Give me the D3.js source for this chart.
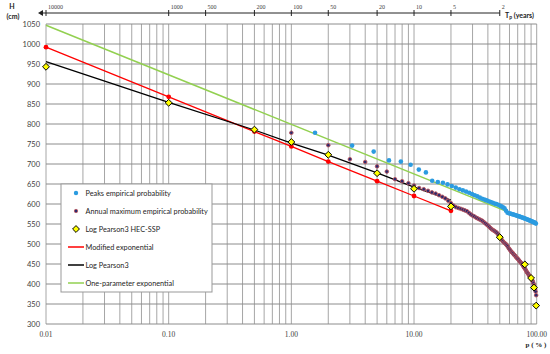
<!DOCTYPE html>
<html>
<head>
<meta charset="utf-8">
<script src="https://cdn.jsdelivr.net/npm/d3@7"></script>
<style>
  body { margin: 0; background: #fff; }
  svg text { font-family: Lato, "Open Sans", sans-serif; }
</style>
</head>
<body>
<svg id="chart" width="550" height="354"></svg>
<script>
    // x axis: exceedance probability p (%), y axis: water level H (cm)
    const yTicks = [300, 350, 400, 450, 500, 550, 600, 650, 700, 750, 800, 850, 900, 950, 1000, 1050];
    const xLabels = [0.01, 0.1, 1, 10, 100];
    const tpLabels = [10000, 1000, 500, 200, 100, 50, 20, 10, 5, 2];

    // Peaks empirical probability
    const pPeaks = [1.56, 3.13, 4.69, 6.25, 7.81, 9.38, 10.94, 12.5, 14.06, 15.63,
        17.19, 18.75, 20.31, 21.88, 23.44, 25.0, 26.56, 28.13, 29.69, 31.25,
        32.81, 34.38, 35.94, 37.5, 39.06, 40.63, 42.19, 43.75, 45.31, 46.88,
        48.44, 50.0, 51.56, 53.13, 54.69, 56.25, 57.81, 59.38, 60.94, 62.5,
        64.06, 65.63, 67.19, 68.75, 70.31, 71.88, 73.44, 75.0, 76.56, 78.13,
        79.69, 81.25, 82.81, 84.38, 85.94, 87.5, 89.06, 90.63, 92.19, 93.75,
        95.31, 96.88, 98.44];
    const hPeaks = [778, 746, 731, 709, 706, 698, 686, 679, 658, 655,
        653, 649, 645, 641, 637, 634, 631, 628, 625, 622,
        619, 616, 613, 611, 609, 607, 605, 603, 601, 600,
        598, 596, 594, 592, 589, 583, 578, 577, 576, 575,
        574, 573, 572, 571, 570, 569, 568, 567, 566, 565,
        564, 563, 562, 561, 560, 559, 558, 557, 556, 555,
        554, 553, 551];

    // Annual maximum empirical probability
    const pAnnual = [1, 2, 3, 4, 5, 6, 7, 8, 9, 10, 11, 12, 13, 14, 15, 16, 17, 18, 19, 20,
        21, 22, 23, 24, 25, 26, 27, 28, 29, 30, 31, 32, 33, 34, 35, 36, 37, 38, 39, 40,
        41, 42, 43, 44, 45, 46, 47, 48, 49, 50, 51, 52, 53, 54, 55, 56, 57, 58, 59, 60,
        61, 62, 63, 64, 65, 66, 67, 68, 69, 70, 71, 72, 73, 74, 75, 76, 77, 78, 79, 80,
        81, 82, 83, 84, 85, 86, 87, 88, 89, 90, 91, 92, 93, 94, 95, 96, 97, 98, 99];
    const hAnnual = [778, 747, 712, 705, 694, 681, 662, 657, 652, 646,
        640, 637, 633, 629, 626, 622, 618, 614, 608, 602,
        596, 592, 590, 588, 586, 584, 582, 578, 574, 571,
        569, 566, 564, 562, 560, 558, 555, 552, 549, 546,
        543, 540, 537, 535, 533, 531, 529, 526, 522, 518,
        514, 510, 507, 504, 502, 500, 497, 494, 490, 487,
        484, 481, 479, 477, 474, 472, 470, 467, 465, 463,
        461, 458, 456, 454, 452, 450, 447, 444, 441, 439,
        436, 433, 430, 428, 426, 423, 421, 419, 417, 415,
        412, 409, 406, 402, 397, 392, 387, 381, 372];

    // Log Pearson3 HEC-SSP
    const pHec = [0.01, 0.1, 0.5, 1, 2, 5, 10, 20, 50, 80, 90, 95, 99];
    const hHec = [943, 853, 786, 755, 723, 677, 638, 594, 517, 449, 415, 391, 346];

    // Modified exponential
    const pModExp = [0.01, 0.1, 0.5, 1, 2, 5, 10, 20];
    const hModExp = [992, 868, 781, 744, 706, 657, 620, 583];

    // Log Pearson3
    const pLp3 = [0.01, 0.1, 0.5, 1, 2, 5, 10, 20];
    const hLp3 = [956, 854, 785, 752, 722, 678, 642, 610];

    // One-parameter exponential
    const pOneExp = [0.01, 100];
    const hOneExp = [1047, 551];

    const legendItems = [
        { label: 'Peaks empirical probability', type: 'peaks' },
        { label: 'Annual maximum empirical probability', type: 'annual' },
        { label: 'Log Pearson3 HEC-SSP', type: 'hec' },
        { label: 'Modified exponential', type: 'line', color: '#ff0000' },
        { label: 'Log Pearson3', type: 'line', color: '#000000' },
        { label: 'One-parameter exponential', type: 'line', color: '#92d050' }
    ];

(function() {
    const svg = d3.select('#chart');
    const plotLeft = 46, plotRight = 536.7, plotTop = 24, plotBottom = 324;

    const x = d3.scaleLog().domain([0.01, 100]).range([plotLeft, plotRight]);
    const y = d3.scaleLinear().domain([300, 1050]).range([plotBottom, plotTop]);

    const zip = (ps, hs) => ps.map((p, i) => ({ p: p, h: hs[i] }));

    // grid
    const grid = svg.append('g');
    const vLines = [];
    [0.01, 0.1, 1, 10].forEach(dec => {
        for (let k = 1; k <= 9; k++) vLines.push(+(dec * k).toPrecision(3));
    });
    vLines.push(100);
    grid.selectAll('line.v')
        .data(vLines)
        .enter()
        .append('line')
        .attr('x1', d => x(d)).attr('x2', d => x(d))
        .attr('y1', plotTop).attr('y2', plotBottom)
        .attr('stroke', '#a6a6a6').attr('stroke-width', 1);
    grid.selectAll('line.h')
        .data(yTicks)
        .enter()
        .append('line')
        .attr('x1', plotLeft).attr('x2', plotRight)
        .attr('y1', d => y(d)).attr('y2', d => y(d))
        .attr('stroke', '#8c8c8c').attr('stroke-width', 1);

    // y labels
    svg.append('g').selectAll('text')
        .data(yTicks)
        .enter()
        .append('text')
        .attr('x', plotLeft - 6)
        .attr('y', d => y(d))
        .attr('dy', '0.35em')
        .attr('text-anchor', 'end')
        .style('font-size', '7.5px')
        .attr('fill', '#404040')
        .text(d => d);

    // x labels
    svg.append('g').selectAll('text')
        .data(xLabels)
        .enter()
        .append('text')
        .attr('x', d => x(d))
        .attr('y', 337)
        .attr('text-anchor', 'middle')
        .style('font-family', '"Liberation Serif", serif')
        .style('font-size', '7.5px')
        .attr('fill', '#404040')
        .text(d => d.toFixed(2));

    // top return period axis
    const topY = 13;
    const tpAxis = svg.append('g');
    tpAxis.append('line')
        .attr('x1', 41).attr('x2', x(100 / 2))
        .attr('y1', topY).attr('y2', topY)
        .attr('stroke', '#222').attr('stroke-width', 1);
    tpAxis.append('path')
        .attr('d', `M38,${topY} L43,${topY - 3} L43,${topY + 3} Z`)
        .attr('fill', '#222');
    tpAxis.selectAll('line.tick')
        .data(tpLabels)
        .enter()
        .append('line')
        .attr('x1', d => x(100 / d)).attr('x2', d => x(100 / d))
        .attr('y1', topY - 3).attr('y2', topY + 3)
        .attr('stroke', '#222').attr('stroke-width', 1);
    tpAxis.selectAll('text')
        .data(tpLabels)
        .enter()
        .append('text')
        .attr('x', d => x(100 / d) + 2)
        .attr('y', 9)
        .style('font-family', '"Liberation Serif", serif')
        .style('font-size', '6px')
        .attr('fill', '#404040')
        .text(d => d);
    const tpTitle = tpAxis.append('text')
        .attr('x', 505).attr('y', 17.5)
        .style('font-size', '7px').style('font-weight', 'bold')
        .attr('fill', '#222');
    tpTitle.append('tspan').text('T');
    tpTitle.append('tspan').attr('dy', 1.5).style('font-size', '5px').text('p');
    tpTitle.append('tspan').attr('dy', -1.5).text(' (years)');

    // axis titles
    svg.append('text').attr('x', 12).attr('y', 9)
        .attr('text-anchor', 'middle')
        .style('font-size', '7px').style('font-weight', 'bold').attr('fill', '#222')
        .text('H');
    svg.append('text').attr('x', 13).attr('y', 19)
        .attr('text-anchor', 'middle')
        .style('font-size', '7px').style('font-weight', 'bold').attr('fill', '#222')
        .text('(cm)');
    svg.append('text').attr('x', 536).attr('y', 347)
        .attr('text-anchor', 'middle')
        .style('font-family', '"Liberation Serif", serif')
        .style('font-size', '7px').style('font-weight', 'bold').attr('fill', '#222')
        .text('p ( % )');

    const line = d3.line().x(d => x(d.p)).y(d => y(d.h));

    // lines
    svg.append('path').datum(zip(pOneExp, hOneExp))
        .attr('d', line).attr('fill', 'none')
        .attr('stroke', '#92d050').attr('stroke-width', 1.5);
    svg.append('path').datum(zip(pModExp, hModExp))
        .attr('d', line).attr('fill', 'none')
        .attr('stroke', '#ff0000').attr('stroke-width', 1.3);
    svg.append('path').datum(zip(pLp3, hLp3))
        .attr('d', line).attr('fill', 'none')
        .attr('stroke', '#000').attr('stroke-width', 1.3);

    // peaks
    svg.append('g').selectAll('circle')
        .data(zip(pPeaks, hPeaks))
        .enter()
        .append('circle')
        .attr('cx', d => x(d.p)).attr('cy', d => y(d.h))
        .attr('r', 2.3)
        .attr('fill', '#2b9be0');

    // annual maxima
    svg.append('g').selectAll('circle')
        .data(zip(pAnnual, hAnnual))
        .enter()
        .append('circle')
        .attr('cx', d => x(d.p)).attr('cy', d => y(d.h))
        .attr('r', 1.8)
        .attr('fill', '#2a2a6e')
        .attr('stroke', '#b8525c').attr('stroke-width', 0.9);

    // modified exponential markers
    svg.append('g').selectAll('circle')
        .data(zip(pModExp, hModExp))
        .enter()
        .append('circle')
        .attr('cx', d => x(d.p)).attr('cy', d => y(d.h))
        .attr('r', 2.4)
        .attr('fill', '#ff0000');

    // HEC-SSP diamonds
    const diamond = d3.symbol().type(d3.symbolDiamond2).size(30);
    svg.append('g').selectAll('path')
        .data(zip(pHec, hHec))
        .enter()
        .append('path')
        .attr('transform', d => `translate(${x(d.p)},${y(d.h)})`)
        .attr('d', diamond)
        .attr('fill', '#ffff00')
        .attr('stroke', '#000').attr('stroke-width', 1);

    // legend
    const lg = svg.append('g');
    lg.append('rect')
        .attr('x', 61).attr('y', 184).attr('width', 151).attr('height', 108)
        .attr('fill', '#fff').attr('stroke', '#999').attr('stroke-width', 1);
    const items = lg.selectAll('g.item')
        .data(legendItems)
        .enter()
        .append('g')
        .attr('transform', (d, i) => `translate(0,${193 + i * 18})`);
    items.each(function(d) {
        const g = d3.select(this);
        if (d.type === 'peaks') {
            g.append('circle').attr('cx', 76).attr('cy', 0).attr('r', 2.2).attr('fill', '#2b9be0');
        } else if (d.type === 'annual') {
            g.append('circle').attr('cx', 76).attr('cy', 0).attr('r', 1.7)
                .attr('fill', '#2a2a6e').attr('stroke', '#b8525c').attr('stroke-width', 0.8);
        } else if (d.type === 'hec') {
            g.append('path').attr('transform', 'translate(76,0)').attr('d', diamond)
                .attr('fill', '#ffff00').attr('stroke', '#000').attr('stroke-width', 1);
        } else {
            g.append('line').attr('x1', 68).attr('x2', 84).attr('y1', 0).attr('y2', 0)
                .attr('stroke', d.color).attr('stroke-width', 1.5);
        }
        g.append('text')
            .attr('x', 85.5).attr('y', 0).attr('dy', '0.35em')
            .style('font-size', '7.3px')
            .attr('fill', '#262626')
            .text(d.label);
    });
})();
</script>
</body>
</html>
